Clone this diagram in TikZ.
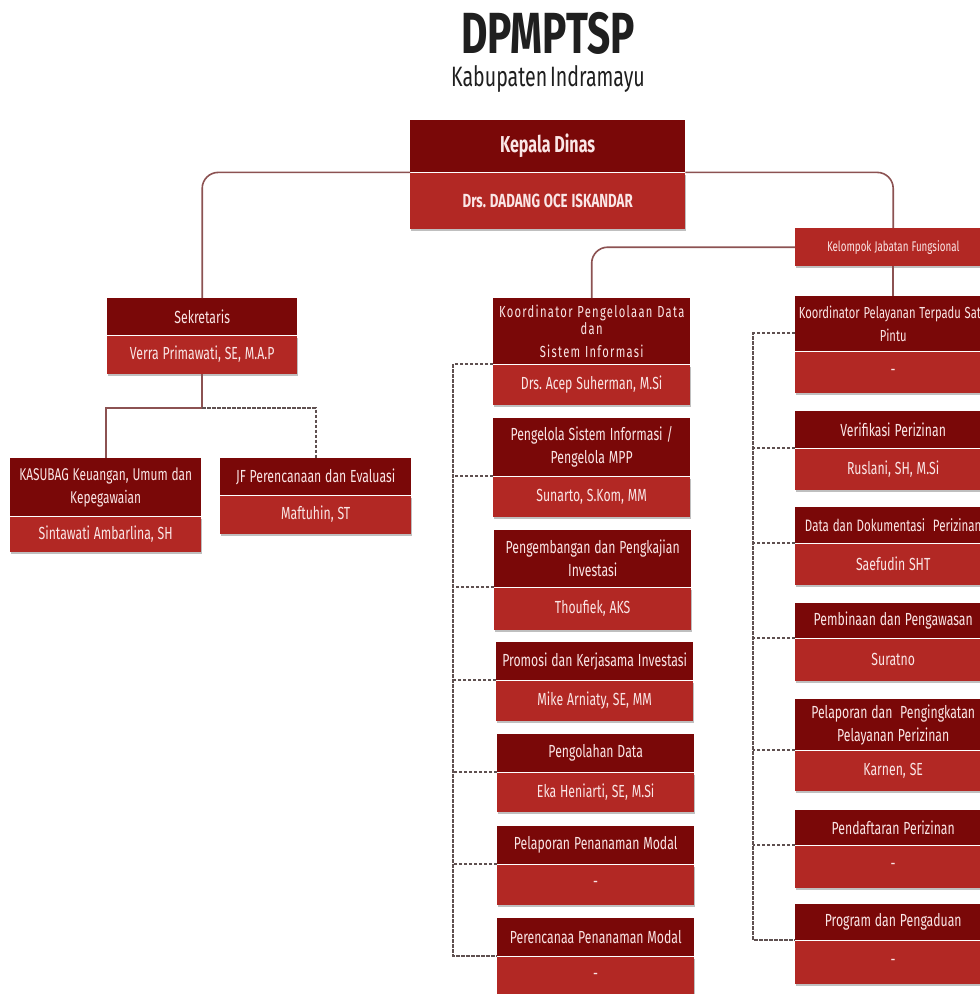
\documentclass[tikz,border=0pt]{standalone}
\usepackage{fontspec}
\setmainfont{Fira Sans}[FakeStretch=0.7,WordSpace=0.55]
\newfontfamily\spaced{Fira Sans}[FakeStretch=0.7,LetterSpace=8,WordSpace=0.7]
\usetikzlibrary{shadows}
\definecolor{dkred}{RGB}{122,8,8}
\definecolor{ltred}{RGB}{178,40,36}
\definecolor{lnred}{RGB}{140,82,82}
\definecolor{dsh}{RGB}{95,80,80}
\definecolor{txt}{RGB}{250,230,230}
\newcommand{\tightsp}{\spaceskip=0.22em\relax\xspaceskip=0.22em\relax}
\newcommand{\obox}[8]{%
  \node[dk, text width=#4pt, minimum height=#5pt] (#1t) at (#2,#3) {\tightsp #7};
  \node[lt, text width=#4pt, minimum height=#6pt] (#1b) at (#1t.south west) {\tightsp #8};
}
\begin{document}
\begin{tikzpicture}[x=1pt,y=-1pt,
  cell/.style={anchor=north west, inner sep=0pt, align=center, text=txt,
    font=\fontsize{17.5}{23}\selectfont},
  dk/.style={cell, fill=dkred},
  lt/.style={cell, fill=ltred, drop shadow={shadow xshift=0.6pt, shadow yshift=-2.2pt, fill=black, opacity=0.25}},
  sl/.style={draw=lnred, line width=1.6pt},
  dl/.style={draw=dsh, line width=2pt, dash pattern=on 3.5pt off 1.5pt},
]
\fill[white] (0,0) rectangle (980,994);
\useasboundingbox (0,0) rectangle (980,994);

% title
\node[font=\fontsize{58}{58}\selectfont\bfseries, text=black!88, inner sep=0pt, anchor=base] (title) at (548,53) {DPMPTSP};
\node[font=\fontsize{28}{30}\selectfont, text=black!88, inner sep=0pt, anchor=base] (sub) at (548,86) {Kabupaten Indramayu};

% head
\obox{kd}{410}{120}{275}{52}{56}{\fontsize{23}{26}\selectfont\bfseries Kepala Dinas}{\fontsize{19}{22}\selectfont\bfseries Drs. DADANG OCE ISKANDAR}
\node[lt, text width=196pt, minimum height=38pt, font=\fontsize{14}{17}\selectfont] (kjf) at (795,228) {\tightsp Kelompok Jabatan Fungsional};

% secretariat
\obox{sek}{107}{298}{190}{37}{38}{Sekretaris}{Verra Primawati, SE, M.A.P}
\obox{kas}{10}{458}{191}{58}{35}{\fontsize{17}{26}\selectfont KASUBAG Keuangan, Umum dan\\Kepegawaian}{Sintawati Ambarlina, SH}
\obox{jf}{220}{458}{191}{37}{38}{JF Perencanaan dan Evaluasi}{Maftuhin, ST}

% left column
\obox{pdsi}{493}{298}{197}{66}{40}{\fontsize{16}{17.5}\selectfont\spaced\spaceskip=0.3em Koordinator Pengelolaan Data\\dan\\Sistem Informasi}{Drs. Acep Suherman, M.Si}
\obox{psi}{493}{418}{197}{58}{40}{\fontsize{17.5}{23}\selectfont Pengelola Sistem Informasi /\\Pengelola MPP}{Sunarto, S.Kom, MM}
\obox{peng}{494}{530}{197}{57}{42}{\fontsize{17.5}{23}\selectfont Pengembangan dan Pengkajian\\Investasi}{Thoufiek, AKS}
\obox{prom}{496}{642}{197}{38}{40}{Promosi dan Kerjasama Investasi}{Mike Arniaty, SE, MM}
\obox{polah}{497}{734}{197}{38}{39}{Pengolahan Data}{Eka Heniarti, SE, M.Si}
\obox{plap}{497}{826}{197}{38}{40}{Pelaporan Penanaman Modal}{-}
\obox{prenc}{497}{918}{197}{38}{40}{Perencanaa Penanaman Modal}{-}

% right column
\obox{ptsp}{795}{296}{196}{55}{41}{\fontsize{16}{21}\selectfont\makebox[0pt]{Koordinator Pelayanan Terpadu Satu}\\Pintu}{-}
\obox{verif}{795}{411}{196}{37}{41}{Verifikasi Perizinan}{Ruslani, SH, M.Si}
\obox{dok}{795}{507}{196}{36}{41}{\fontsize{16.5}{22}\selectfont Data dan Dokumentasi~ Perizinan}{Saefudin SHT}
\obox{bina}{795}{603}{196}{35}{42}{Pembinaan dan Pengawasan}{Suratno}
\obox{lapz}{795}{699}{196}{51}{40}{\fontsize{17.5}{21}\selectfont Pelaporan dan~ Pengingkatan\\Pelayanan Perizinan}{Karnen, SE}
\obox{daft}{795}{810}{196}{35}{42}{Pendaftaran Perizinan}{-}
\obox{prog}{795}{904}{196}{36}{43}{Program dan Pengaduan}{-}

% solid connectors
\draw[sl, rounded corners=16pt] (kdt.south west) -| (sekt.north);
\draw[sl, rounded corners=16pt] (kdt.south east) -| (kjf.north);
\draw[sl, rounded corners=16pt] (kjf.west) -| (pdsit.north);
\draw[sl] (kjf.south) -- (ptspt.north);

\coordinate (sj) at (sekb.south |- 0,408);
\draw[sl] (sekb.south) -- (sj);
\draw[sl] (sj) -| (kast.north);
\draw[dl] (sj) -| (jft.north);

% left dashed spine
\coordinate (ls) at (453,0);
\draw[dl] (pdsit.south west) -- (pdsit.south west -| ls) |- (prenct.south west);
\foreach \n in {psi,peng,prom,polah,plap}
  \draw[dl] (\n t.south west) -- (\n t.south west -| ls);

% right dashed spine
\coordinate (rs) at (753,0);
\coordinate (pd) at ([yshift=18pt]ptspt.south west);
\draw[dl] (pd) -- (pd -| rs) |- (progt.south west);
\foreach \n in {verif,dok,bina,lapz,daft}
  \draw[dl] (\n t.south west) -- (\n t.south west -| rs);
\end{tikzpicture}
\end{document}
